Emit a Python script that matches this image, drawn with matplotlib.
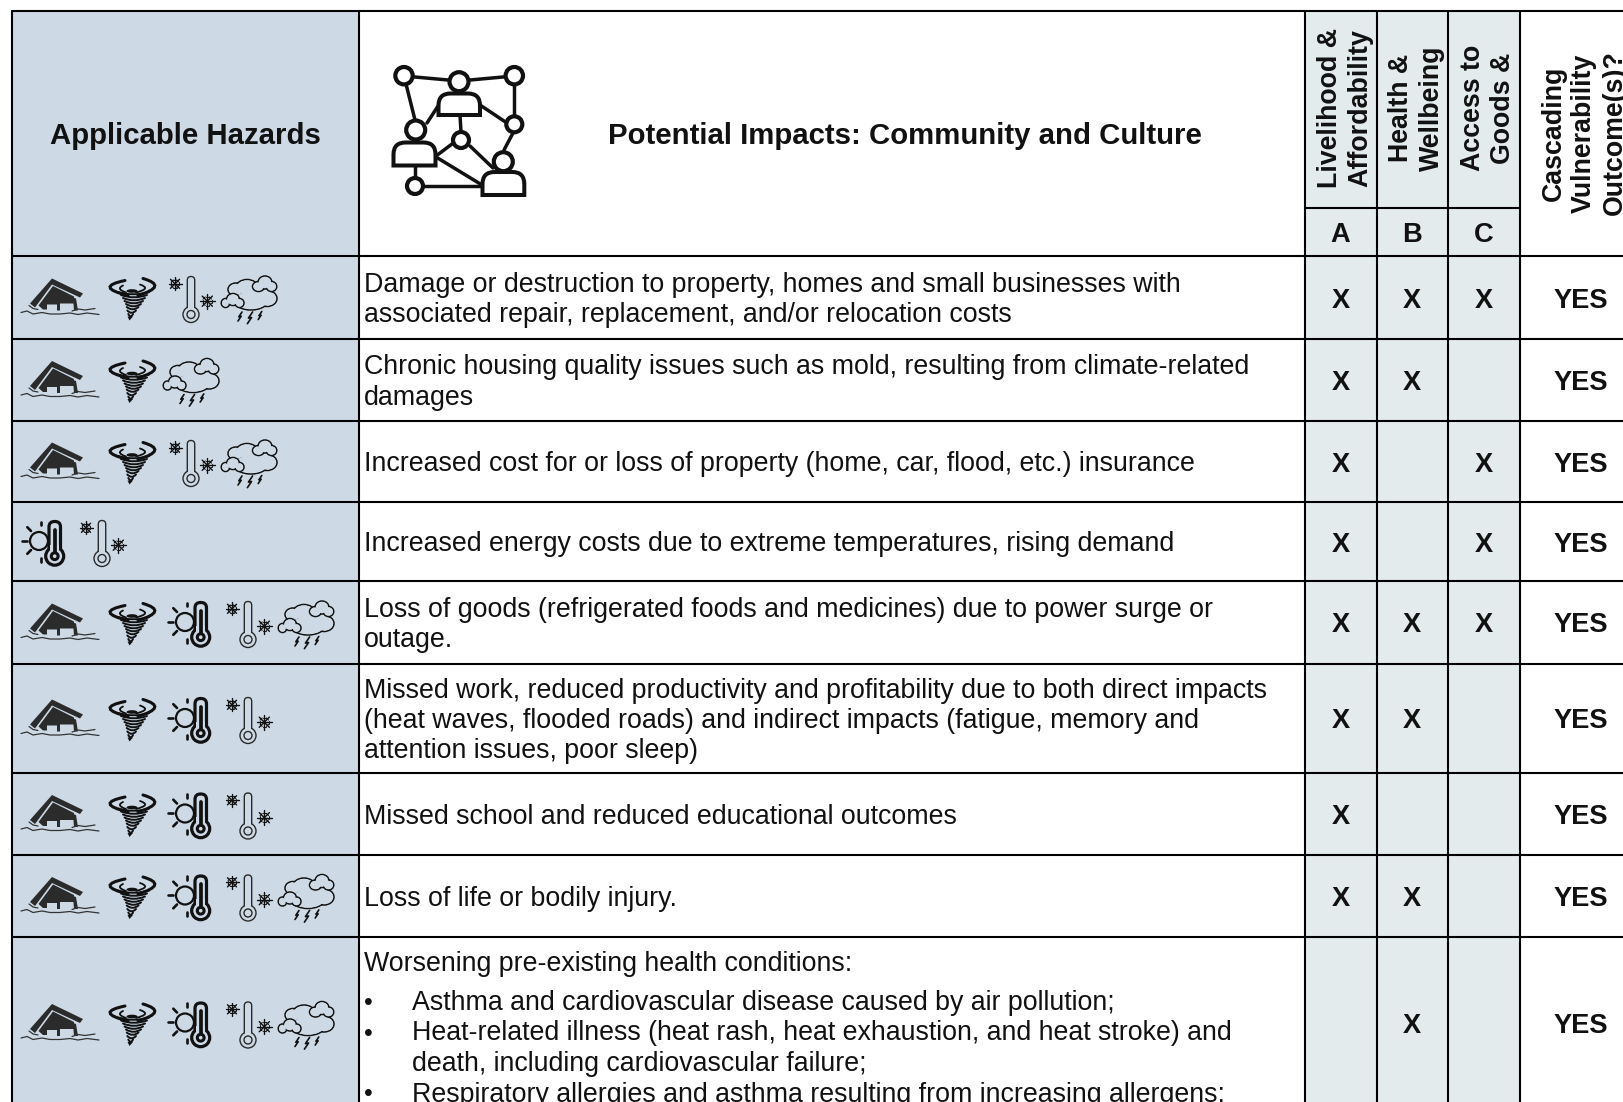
import matplotlib
matplotlib.use("Agg")
import matplotlib.pyplot as plt
from matplotlib.patches import Rectangle, Circle, Ellipse, Polygon, FancyBboxPatch, PathPatch
from matplotlib.path import Path

plt.rcParams["font.family"] = ["Liberation Sans", "DejaVu Sans"]

# table content
header_left = "Applicable Hazards"
header_mid = "Potential Impacts: Community and Culture"
header_cols = ["Livelihood &\nAffordability", "Health &\nWellbeing", "Access to\nGoods &"]
header_letters = ["A", "B", "C"]
header_last = "Cascading\nVulnerability\nOutcome(s)?"

impacts = [
    "Damage or destruction to property, homes and small businesses with\nassociated repair, replacement, and/or relocation costs",
    "Chronic housing quality issues such as mold, resulting from climate-related\ndamages",
    "Increased cost for or loss of property (home, car, flood, etc.) insurance",
    "Increased energy costs due to extreme temperatures, rising demand",
    "Loss of goods (refrigerated foods and medicines) due to power surge or\noutage.",
    "Missed work, reduced productivity and profitability due to both direct impacts\n(heat waves, flooded roads) and indirect impacts (fatigue, memory and\nattention issues, poor sleep)",
    "Missed school and reduced educational outcomes",
    "Loss of life or bodily injury.",
]
last_intro = "Worsening pre-existing health conditions:"
last_bullets = [
    "Asthma and cardiovascular disease caused by air pollution;",
    "Heat-related illness (heat rash, heat exhaustion, and heat stroke) and\ndeath, including cardiovascular failure;",
    "Respiratory allergies and asthma resulting from increasing allergens;",
]

hazards = [
    ["flood", "tornado", "cold", "storm"],
    ["flood", "tornado", "storm"],
    ["flood", "tornado", "cold", "storm"],
    ["heat", "cold"],
    ["flood", "tornado", "heat", "cold", "storm"],
    ["flood", "tornado", "heat", "cold"],
    ["flood", "tornado", "heat", "cold"],
    ["flood", "tornado", "heat", "cold", "storm"],
    ["flood", "tornado", "heat", "cold", "storm"],
]
col_a = ["X", "X", "X", "X", "X", "X", "X", "X", ""]
col_b = ["X", "X", "", "", "X", "X", "", "X", "X"]
col_c = ["X", "", "X", "X", "X", "", "", "", ""]
outcome = ["YES"] * 9

# layout, pixels
W, H = 1623, 1102
col_x = [12, 359, 1305, 1377, 1448, 1520, 1640]
row_y = [11, 256, 339, 421, 502, 581, 664, 773, 855, 937, 1109]
letter_y = 208
icon_adv = {"flood": 87, "tornado": 62, "heat": 57, "cold": 52, "storm": 60}

BLUE = "#cddae6"
GREY = "#e4ebed"
INK = "#111111"
BODY = 19.28
BOLD = 21.2
HEAD = 19.3
MARK = 19.6


fig = plt.figure(figsize=(W / 100, H / 100), dpi=100)
ax = fig.add_axes([0, 0, 1, 1])
ax.set_xlim(0, W)
ax.set_ylim(H, 0)
ax.axis("off")


def line(xs, ys, lw=1.5, c=INK, z=4):
    ax.plot(xs, ys, color=c, lw=lw, solid_capstyle="round", solid_joinstyle="round", zorder=z)


def qcurve(p0, c, p1, lw=1.8, color=INK, z=4):
    path = Path([p0, c, p1], [Path.MOVETO, Path.CURVE3, Path.CURVE3])
    ax.add_patch(PathPatch(path, fc="none", ec=color, lw=lw, capstyle="round", zorder=z))


def flood(x, y, bg):
    dark = "#2b2b2b"
    roof = [(31, -19), (62, -4), (59, 0), (31, -13), (14, 10), (9, 6)]
    ax.add_patch(Polygon([(x + a, y + b) for a, b in roof], fc=dark, ec="none", zorder=4))
    body = [(32, -11.5), (53, -1), (53, 6), (39, 6), (39, 13), (36, 13), (36, 7), (26, 7), (26, 12), (22, 12), (17.5, 8)]
    ax.add_patch(Polygon([(x + a, y + b) for a, b in body], fc=dark, ec="none", zorder=4))
    right_leg = [(52, 0), (55, 1), (57, 13), (53, 13)]
    ax.add_patch(Polygon([(x + a, y + b) for a, b in right_leg], fc=dark, ec="none", zorder=4))
    wave1 = [(0, 15), (6, 13.5), (12, 16.5), (21, 15), (29, 16.5), (39, 16.5), (49, 15.5), (57, 17), (66, 15.5), (78, 17)]
    wave2 = [(51, 13.5), (57, 11.5), (64, 12.5), (74, 11)]
    wave3 = [(8, 8), (12, 11), (17, 12)]
    for wave in (wave1, wave2, wave3):
        line([x + a for a, b in wave], [y + b for a, b in wave], 0.9, "#333333", 5)


def tornado(x, y, bg):
    qcurve((x + 17, y - 17), (x - 14.5, y - 10.5), (x + 20, y - 2), 2.2)
    qcurve((x + 35, y - 19), (x + 61, y - 11.5), (x + 30, y - 2), 2.2)
    qcurve((x + 15, y - 12), (x + 7.5, y - 8.5), (x + 18, y - 5), 1.3)
    qcurve((x + 32, y - 13), (x + 44, y - 9), (x + 28, y - 5), 1.3)
    ax.add_patch(Ellipse((x + 24, y - 6.5), 11, 3.6, fc=INK, ec="none", zorder=5))
    funnel = [(10, 41, -4), (13, 39, -1), (15, 37, 2), (16.5, 35, 5), (18, 33, 8), (18.7, 30.5, 11),
              (19.3, 28, 14.5), (20.3, 25, 18)]
    for left, right, yy in funnel:
        qcurve((x + left, y + yy - 1.5), (x + (left + right) / 2, y + yy + 3.2), (x + right, y + yy - 1.5), 1.4)
    ax.add_patch(Polygon([(x + 19.5, y + 19), (x + 25, y + 19), (x + 21.5, y + 23)], fc=INK, ec="none", zorder=4))


def heat(x, y, bg):
    x = x - 2
    ax.add_patch(Circle((x + 17, y - 0.5), 9, fc="none", ec=INK, lw=1.6, zorder=4))
    for x1, y1, x2, y2 in ((0.3, -1, 5, -1), (5.3, -14.3, 9, -10.5), (19.3, -20, 19.3, -16.5), (5.3, 12.3, 9, 8.5), (19.3, 16, 19.3, 20)):
        line([x + x1, x + x2], [y + y1, y + y2], 1.9)
    ax.add_patch(FancyBboxPatch((x + 27, y - 20), 11.5, 32, boxstyle="round,pad=0,rounding_size=5.5", fc=bg, ec=INK, lw=2.3, zorder=5))
    ax.add_patch(Circle((x + 32.7, y + 14.7), 9, fc=bg, ec=INK, lw=2.3, zorder=6))
    ax.add_patch(Rectangle((x + 28.4, y + 3), 8.6, 6, fc=bg, ec="none", zorder=7))
    line([x + 32.7, x + 32.7], [y - 12, y + 10], 2.7, z=8)
    ax.add_patch(Circle((x + 32.7, y + 14.7), 3.4, fc=bg, ec=INK, lw=2.2, zorder=8))


def flake(cx, cy, r, lw):
    for dx, dy in ((1, 0), (0, 1), (0.7, 0.7), (0.7, -0.7)):
        line([cx - dx * r, cx + dx * r], [cy - dy * r, cy + dy * r], lw)
        for s in (-0.62, 0.62):
            line([cx + s * dx * r - dy * 1.6, cx + s * dx * r + dy * 1.6],
                 [cy + s * dy * r + dx * 1.6, cy + s * dy * r - dx * 1.6], lw * 0.7)


def cold(x, y, bg):
    flake(x + 5, y - 13.7, 6.5, 1.0)
    flake(x + 37.3, y + 3.7, 7.3, 1.0)
    ax.add_patch(FancyBboxPatch((x + 17.3, y - 21), 7.4, 34, boxstyle="round,pad=0,rounding_size=3.7", fc=bg, ec="#2a2a2a", lw=1.0, zorder=4))
    ax.add_patch(Circle((x + 21, y + 17), 8, fc=bg, ec="#2a2a2a", lw=1.0, zorder=5))
    ax.add_patch(Rectangle((x + 18, y + 6), 6, 6, fc=bg, ec="none", zorder=6))
    ax.add_patch(Circle((x + 21, y + 17), 4, fc=bg, ec="#2a2a2a", lw=1.0, zorder=6))


def cloud(x, y, blobs, bg, lw, z):
    for cx, cy, w, h in blobs:
        ax.add_patch(Ellipse((x + cx, y + cy), w, h, fc=bg, ec=INK, lw=lw, zorder=z))
    for cx, cy, w, h in blobs:
        ax.add_patch(Ellipse((x + cx, y + cy), w - 1.8, h - 1.8, fc=bg, ec="none", zorder=z + 0.5))


def storm(x, y, bg):
    cloud(x, y, [(14, -8, 16, 13), (25, -10, 22, 16), (45, 1, 20, 16), (29, 3, 34, 19), (38, -4, 24, 14)], bg, 1.1, 4)
    cloud(x, y, [(36.5, -11, 12, 10), (43, -15, 14, 13), (49.5, -11, 10.5, 10)], bg, 1.1, 6)
    cloud(x, y, [(3.5, 5.5, 8.5, 9), (11, 2, 13, 12), (17.5, 5.5, 9, 9)], bg, 1.1, 8)
    for bx, by, s in ((18, 19, 1), (28, 20.3, 1.3), (38, 18, 0.9)):
        line([x + bx + 2 * s, x + bx - 1.2 * s, x + bx + 1.2 * s, x + bx - 2 * s],
             [y + by - 4.5 * s, y + by + 0.3, y + by - 0.3, y + by + 4.5 * s], 1.2, z=10)


draw_icon = {"flood": flood, "tornado": tornado, "heat": heat, "cold": cold, "storm": storm}


def person_body(x0, x1, top, bottom):
    r = 12
    verts = [(x0, bottom), (x0, top + r), (x0, top), (x0 + r, top), (x1 - r, top), (x1, top), (x1, top + r), (x1, bottom), (x0, bottom)]
    codes = [Path.MOVETO, Path.LINETO, Path.CURVE3, Path.CURVE3, Path.LINETO, Path.CURVE3, Path.CURVE3, Path.LINETO, Path.CLOSEPOLY]
    ax.add_patch(PathPatch(Path(verts, codes), fc="white", ec=INK, lw=2.9, zorder=5))


def network_icon():
    nodes = [(404, 75.7, 8.7), (514.3, 75.7, 8.7), (514.3, 124.3, 8), (461, 140, 8), (415, 186, 8)]
    heads = [(459, 81.7, 9.5), (415.7, 130, 9.5), (503.3, 161.7, 9.5)]
    bodies = [(438.5, 480, 93.5, 115), (393.5, 435.5, 142.5, 165.5), (482.5, 524.3, 172, 195)]
    edges = [(404, 76, 459, 81), (459, 81, 514, 76), (404, 76, 415, 120), (514, 76, 514, 124),
             (480, 105, 507, 123), (427, 123, 440, 103), (460, 115, 461, 132), (452, 144, 436, 156),
             (470, 146, 493, 168), (513, 133, 504, 150), (436, 157, 482, 185), (415, 166, 415, 178),
             (423, 186, 482, 186)]
    for x1, y1, x2, y2 in edges:
        line([x1, x2], [y1, y2], 2.5)
    for x0, x1, top, bottom in bodies:
        person_body(x0, x1, top, bottom)
    for cx, cy, r in nodes + heads:
        ax.add_patch(Circle((cx, cy), r, fc="white", ec=INK, lw=3.0, zorder=6))


# cell fills
ax.add_patch(Rectangle((col_x[0], row_y[0]), col_x[1] - col_x[0], row_y[-1] - row_y[0], fc=BLUE, ec="none", zorder=1))
ax.add_patch(Rectangle((col_x[2], row_y[0]), col_x[5] - col_x[2], row_y[-1] - row_y[0], fc=GREY, ec="none", zorder=1))

# grid
for x in col_x[:6]:
    line([x, x], [row_y[0], H + 5], 1.5, "black", 3)
for y in row_y[:-1]:
    line([col_x[0], W + 5], [y, y], 1.5, "black", 3)
line([col_x[2], col_x[5]], [letter_y, letter_y], 1.5, "black", 3)

# header text
ax.text(185, 136, header_left, ha="center", va="center", fontsize=BOLD, fontweight="bold", color=INK)
ax.text(905, 136, header_mid, ha="center", va="center", fontsize=BOLD, fontweight="bold", color=INK)
network_icon()

col_cx = [(col_x[i] + col_x[i + 1]) / 2 for i in range(2, 5)]
last_cx = 1581
for cx, label, letter in zip(col_cx, header_cols, header_letters):
    ax.text(cx + 4, 108, label, rotation=90, ha="center", va="center", multialignment="center",
            fontsize=HEAD, fontweight="bold", color=INK, linespacing=1.22)
    ax.text(cx - 0.5, 235, letter, ha="center", va="center", fontsize=MARK, fontweight="bold", color=INK)
ax.text(last_cx + 3, 133, header_last, rotation=90, ha="center", va="center", multialignment="center",
        fontsize=HEAD, fontweight="bold", color=INK, linespacing=1.22, clip_on=True)

# body rows
for i in range(9):
    top, bottom = row_y[i + 1], row_y[i + 2]
    cy = (top + bottom) / 2
    x = 24 if hazards[i][0] == "heat" else 21
    for k, name in enumerate(hazards[i]):
        if name == "storm" and hazards[i][k - 1] == "tornado":
            x -= 6
        draw_icon[name](x, cy, BLUE)
        x += icon_adv[name]
    if i < len(impacts):
        ax.text(364, cy + 2.5, impacts[i], ha="left", va="center", fontsize=BODY, color=INK, linespacing=1.22)
    for cx, col in zip(col_cx, (col_a, col_b, col_c)):
        if col[i]:
            ax.text(cx - 0.5, cy + 3, col[i], ha="center", va="center", fontsize=MARK, fontweight="bold", color=INK)
    ax.text(last_cx, cy + 3, outcome[i], ha="center", va="center", fontsize=MARK, fontweight="bold", color=INK)

# last row has its own bullet list
ax.text(364, 964, last_intro, ha="left", va="center", fontsize=BODY, color=INK)
y = 1003
for item in last_bullets:
    ax.text(364, y, "\u2022", ha="left", va="center", fontsize=18, color=INK)
    for part in item.split("\n"):
        ax.text(412, y, part, ha="left", va="center", fontsize=BODY, color=INK)
        y += 30.5

fig.savefig("out.png", dpi=100)
